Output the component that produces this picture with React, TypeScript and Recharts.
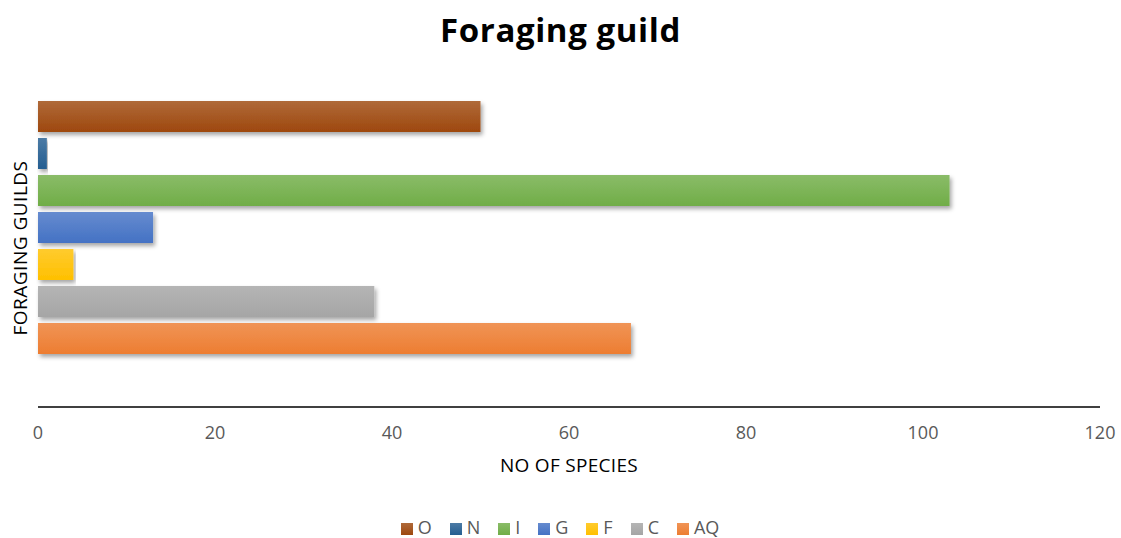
import { BarChart, Bar, XAxis, YAxis, Legend } from "recharts";

// Foraging guilds and number of species in each
const guilds = ["O", "N", "I", "G", "F", "C", "AQ"];
const speciesCounts = [50, 1, 103, 13, 4, 38, 67];
const guildColors = ["#9E480E", "#255E91", "#70AD47", "#4472C4", "#FFC000", "#A5A5A5", "#ED7D31"];
const xTicks = [0, 20, 40, 60, 80, 100, 120];

const row: Record<string, number | string> = { name: "guilds" };
guilds.forEach((g, i) => {
  row[g] = speciesCounts[i];
});
const data = [row];

const FONT = "'Open Sans', sans-serif";

// lighten a hex colour towards white
const tint = (hex: string, amt: number) => {
  const n = parseInt(hex.slice(1), 16);
  const ch = [(n >> 16) & 255, (n >> 8) & 255, n & 255].map((c) => Math.round(c + (255 - c) * amt));
  return `rgb(${ch.join(",")})`;
};

export default function App() {
  return (
    <div style={{ position: "absolute", left: 0, top: 0, width: 1121, height: 538, background: "#fff", fontFamily: FONT }}>
      <div
        style={{
          position: "absolute",
          top: 7,
          width: 1121,
          textAlign: "center",
          fontSize: 33,
          fontWeight: 700,
          letterSpacing: 0.6,
          color: "#000",
        }}
      >
        Foraging guild
      </div>
      <div
        style={{
          position: "absolute",
          left: 20,
          top: 248,
          transform: "translate(-50%, -50%) rotate(-90deg)",
          fontSize: 19,
          letterSpacing: 0.5,
          color: "#000",
          whiteSpace: "nowrap",
        }}
      >
        FORAGING GUILDS
      </div>
      <div
        style={{
          position: "absolute",
          top: 452,
          left: 38,
          width: 1062,
          textAlign: "center",
          fontSize: 19,
          letterSpacing: 0.3,
          color: "#000",
        }}
      >
        NO OF SPECIES
      </div>
      <BarChart
        width={1121}
        height={538}
        data={data}
        layout="vertical"
        margin={{ top: 48, right: 21, left: 38, bottom: 0 }}
        barSize={31}
        barGap={6}
      >
        <defs>
          {guilds.map((g, i) => (
            <linearGradient key={g} id={`grad-${g}`} x1="0" y1="0" x2="0" y2="1">
              <stop offset="0%" stopColor={tint(guildColors[i], 0.18)} />
              <stop offset="100%" stopColor={guildColors[i]} />
            </linearGradient>
          ))}
          <filter id="barShadow" x="-5%" y="-30%" width="110%" height="170%">
            <feDropShadow dx="2" dy="3" stdDeviation="2" floodColor="#000" floodOpacity="0.35" />
          </filter>
        </defs>
        <XAxis
          type="number"
          domain={[0, 120]}
          ticks={xTicks}
          tickLine={false}
          axisLine={{ stroke: "#000", strokeWidth: 1.3 }}
          tick={{ fontSize: 18, fill: "#595959", fontFamily: FONT }}
          tickMargin={13}
          height={107}
        />
        <YAxis type="category" dataKey="name" hide />
        <Legend
          verticalAlign="bottom"
          iconType="square"
          iconSize={12}
          itemSorter={(item: { value: string }) => guilds.indexOf(item.value)}
          wrapperStyle={{ fontSize: 18, fontFamily: FONT, bottom: -1, lineHeight: "24px" }}
          formatter={(value: string) => (
            <span style={{ color: "#595959", marginLeft: 1, marginRight: 8 }}>{value}</span>
          )}
        />
        {guilds.map((g, i) => (
          <Bar
            key={g}
            dataKey={g}
            name={g}
            fill={`url(#grad-${g})`}
            legendType="square"
            filter="url(#barShadow)"
            isAnimationActive={false}
          />
        ))}
      </BarChart>
    </div>
  );
}
